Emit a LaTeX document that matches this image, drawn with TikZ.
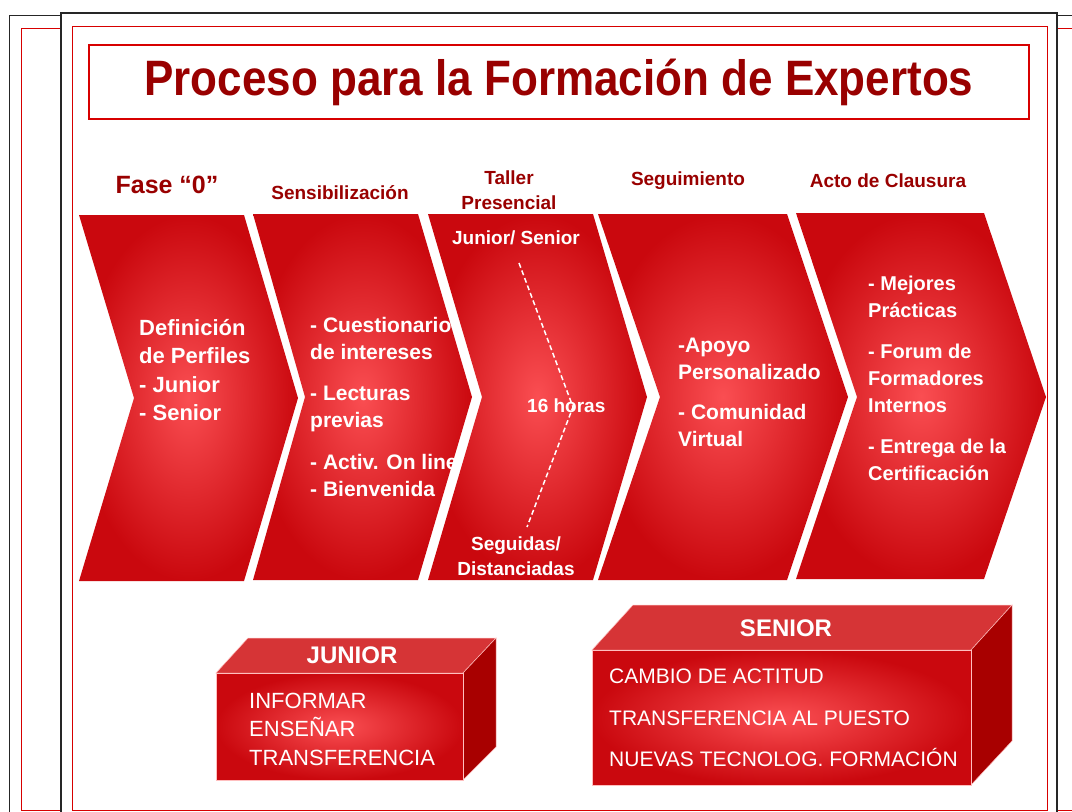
\documentclass[tikz,border=0pt]{standalone}
\usepackage{fontspec}
\setmainfont{Liberation Sans}
\usepackage{graphicx}
\usetikzlibrary{positioning}

\definecolor{titlered}{RGB}{153,0,0}
\definecolor{framered}{RGB}{215,0,0}
\definecolor{chevlight}{RGB}{250,78,82}
\definecolor{chevdark}{RGB}{202,8,14}
\definecolor{cubetop}{RGB}{214,52,54}
\definecolor{cubeside}{RGB}{168,0,0}

\begin{document}
\begin{tikzpicture}[
  x=1pt,y=-1pt,
  page/.style={draw=black!85,line width=0.8pt},
  frame/.style={draw=framered,line width=0.7pt},
  chevron/.style={inner color=chevlight,outer color=chevdark},
  phase/.style={font=\fontsize{19}{25}\selectfont\bfseries,text=titlered,align=center},
  body/.style={text=white,align=left,anchor=west,inner sep=0pt},
  cubefront/.style={inner color=chevlight,outer color=chevdark,draw=white!75!red,line width=0.5pt},
  cubetopface/.style={fill=cubetop,draw=white!75!red,line width=0.5pt},
  cubesideface/.style={fill=cubeside,draw=white!75!red,line width=0.5pt},
  dashline/.style={draw=white,line width=1.5pt,dash pattern=on 5pt off 3pt}
]
\useasboundingbox (0,0) rectangle (1072,812);
\clip (0,0) rectangle (1072,812);

% pages behind
\draw[page] (9.5,15) rectangle (1100,830);
\draw[frame] (21,28) rectangle (1100,810);
\filldraw[fill=white,page,line width=1.5pt] (61,13) rectangle (1057,830);
\draw[frame] (72,26) rectangle (1047,810);

\node[draw=framered,line width=1.5pt,minimum width=940pt,minimum height=74pt,
  text=titlered,font=\fontsize{44}{50}\selectfont\bfseries] (title) at (559,82)
  {\scalebox{1}[1.13]{Proceso para la Formación de Expertos}};

\node[phase,font=\fontsize{25}{30}\selectfont\bfseries] (fase) at (167,185) {Fase “0”};
\node[phase] (sensib) at (340,193) {Sensibilización};
\node[phase] (taller) at (509,190) {Taller\\Presencial};
\node[phase] (seguim) at (688,181) {Seguimiento};
\node[phase] (clausura) at (888,181) {Acto de Clausura};

% chevrons
\shade[chevron] (79,215) -- (244,215) -- (298,398) -- (244,581) -- (79,581) -- (134,398) -- cycle;
\shade[chevron] (253,214) -- (418,214) -- (472,397) -- (418,580) -- (253,580) -- (305,397) -- cycle;
\shade[chevron] (428,214) -- (593,214) -- (647,397) -- (593,580) -- (428,580) -- (482,397) -- cycle;
\shade[chevron] (598,214) -- (787,214) -- (848,397) -- (787,580) -- (598,580) -- (660,397) -- cycle;
\shade[chevron] (796,213) -- (984,213) -- (1046,397) -- (984,579) -- (796,579) -- (857,397) -- cycle;

\node[body,font=\fontsize{22}{28.5}\selectfont\bfseries] (perfiles) at (139,370)
  {Definición\\de Perfiles\\- Junior\\- Senior};
\node[body,font=\fontsize{21}{27}\selectfont\bfseries] (cuestion) at (310,407)
  {- Cuestionario\\de intereses\\[14pt]- Lecturas\\previas\\[15pt]- Activ. On line\\- Bienvenida};

\coordinate (dtop) at (519,263);
\coordinate (dmid) at (573,407);
\coordinate (dbot) at (527,527);
\draw[dashline] (dtop) -- (dmid) -- (dbot);
\node[text=white,font=\fontsize{19}{25}\selectfont\bfseries] (modo) at (516,238) {Junior/ Senior};
\node[body,font=\fontsize{19}{25}\selectfont\bfseries] (horas) at (527,406) {16 horas};
\node[text=white,align=center,font=\fontsize{19}{25}\selectfont\bfseries] (sesiones) at (516,556)
  {Seguidas/\\Distanciadas};

\node[body,font=\fontsize{21}{27}\selectfont\bfseries] (apoyo) at (678,392)
  {-Apoyo\\Personalizado\\[13pt]- Comunidad\\Virtual};
\node[body,font=\fontsize{20}{27}\selectfont\bfseries] (mejores) at (868,378)
  {- Mejores\\Prácticas\\[14pt]- Forum de\\Formadores\\Internos\\[14pt]- Entrega de la\\Certificación};

% cubes
\fill[cubetopface] (216,673) -- (248,638) -- (496,638) -- (463,673) -- cycle;
\fill[cubesideface] (463,673) -- (496,638) -- (496,747) -- (463,780) -- cycle;
\shade[cubefront] (216,673) rectangle (463,780);
\node[text=white,font=\fontsize{24}{28}\selectfont\bfseries] (junior) at (352,655) {JUNIOR};
\node[body,font=\fontsize{22}{28.5}\selectfont] (juniorlist) at (249,729)
  {INFORMAR\\ENSEÑAR\\TRANSFERENCIA};

\fill[cubetopface] (592,650) -- (633,605) -- (1012,605) -- (971,650) -- cycle;
\fill[cubesideface] (971,650) -- (1012,605) -- (1012,741) -- (971,785) -- cycle;
\shade[cubefront] (592,650) rectangle (971,785);
\node[text=white,font=\fontsize{24}{28}\selectfont\bfseries] (senior) at (786,628) {SENIOR};
\node[body,font=\fontsize{21}{41.5}\selectfont] (seniorlist) at (609,718)
  {CAMBIO DE ACTITUD\\TRANSFERENCIA AL PUESTO\\NUEVAS TECNOLOG. FORMACIÓN};
\end{tikzpicture}
\end{document}
